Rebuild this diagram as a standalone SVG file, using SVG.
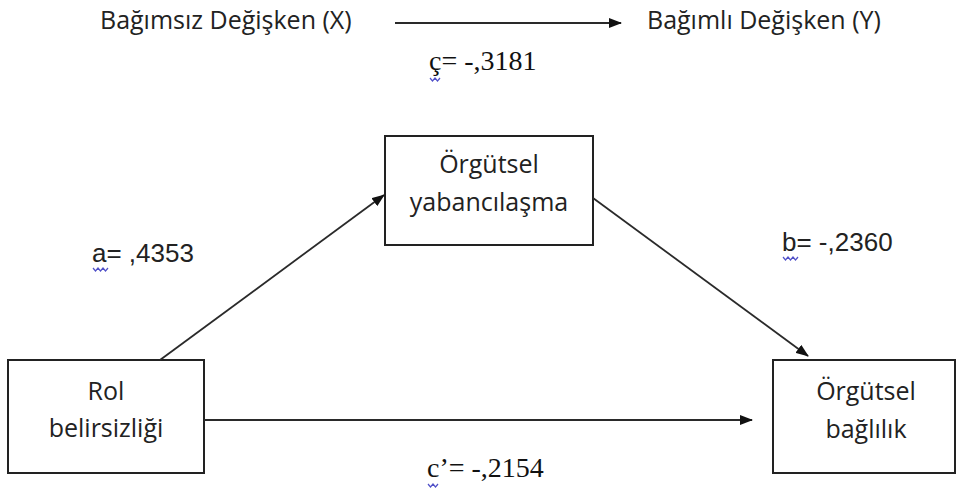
<svg xmlns="http://www.w3.org/2000/svg" width="958" height="496" viewBox="0 0 958 496">
<defs>
<marker id="ah" markerWidth="13" markerHeight="10" refX="12" refY="5" orient="auto" markerUnits="userSpaceOnUse">
<path d="M0,0 L13,5 L0,10 Z" fill="#111"/>
</marker>
<style>
.box{fill:#fff;stroke:#222;stroke-width:2}
.t{font-family:"Open Sans","Liberation Sans",sans-serif;font-size:25px;fill:#222;text-anchor:middle}
.h{font-family:"Open Sans","Liberation Sans",sans-serif;font-size:25px;fill:#222}
.s{font-family:"Liberation Sans",Arial,sans-serif;font-size:26px;fill:#222}
.r{font-family:"Liberation Serif","Times New Roman",serif;font-size:28px;fill:#111}
.c{fill:none;stroke:#2a2a2a;stroke-width:1.8;marker-end:url(#ah)}
.w{fill:none;stroke:#5050c8;stroke-width:1.2}
</style>
</defs>
<rect width="958" height="496" fill="#fff"/>
<g id="title-x"><text class="h" x="100" y="29">Bağımsız Değişken (X)</text></g>
<g id="title-y"><text class="h" x="647" y="29">Bağımlı Değişken (Y)</text></g>
<g id="node-mediator">
<rect class="box" x="385" y="136" width="208" height="109"/>
<text class="t" x="489" y="173">Örgütsel</text>
<text class="t" x="489" y="211">yabancılaşma</text>
</g>
<g id="node-x">
<rect class="box" x="8" y="360" width="196" height="113"/>
<text class="t" x="106" y="400">Rol</text>
<text class="t" x="106" y="437">belirsizliği</text>
</g>
<g id="node-y">
<rect class="box" x="773" y="360" width="182" height="113"/>
<text class="t" x="866" y="400">Örgütsel</text>
<text class="t" x="866" y="438">bağlılık</text>
</g>
<g id="connectors">
<line class="c" x1="395" y1="23" x2="621" y2="23"/>
<line class="c" x1="160" y1="360" x2="384" y2="195"/>
<line class="c" x1="593" y1="198" x2="808" y2="356"/>
<line class="c" x1="204" y1="420" x2="752" y2="420"/>
</g>
<g id="labels">
<text class="r" x="429" y="70">ç= -,3181</text>
<path class="w" d="M430,78 l2.5,3 l2.5,-3 l2.5,3 l2.5,-3"/>
<text class="s" x="92" y="262">a= ,4353</text>
<path class="w" d="M93,268 l2.5,3 l2.5,-3 l2.5,3 l2.5,-3 l2.5,3 l2.5,-3"/>
<text class="s" x="782" y="251">b= -,2360</text>
<path class="w" d="M783,257 l2.5,3 l2.5,-3 l2.5,3 l2.5,-3 l2.5,3 l2.5,-3"/>
<text class="r" x="427" y="477">c’= -,2154</text>
<path class="w" d="M428,484 l2.5,3 l2.5,-3 l2.5,3 l2.5,-3"/>
</g>
</svg>
